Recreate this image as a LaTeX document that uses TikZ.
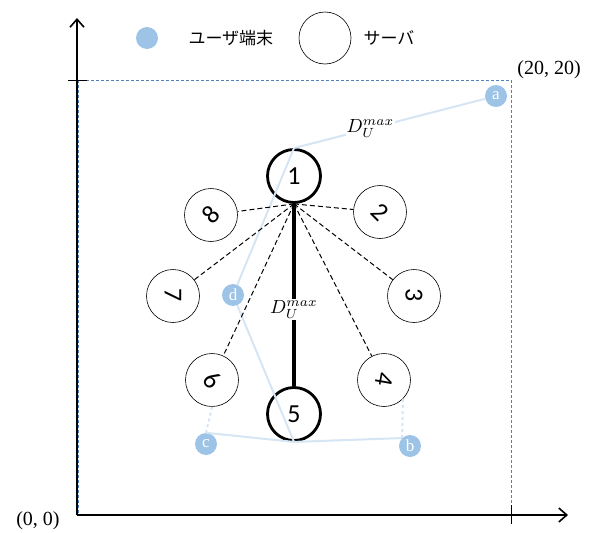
\documentclass[tikz,border=0pt]{standalone}
\usepackage{fontspec}
\setmainfont{Liberation Serif}
\newfontfamily\jpfont{Noto Sans CJK JP}
\newfontfamily\numfont{Carlito}
\usetikzlibrary{arrows.meta,positioning}
\definecolor{userblue}{HTML}{9DC3E6}
\definecolor{linkblue}{HTML}{D6E5F4}
\definecolor{areablue}{HTML}{4F81BD}
\newcommand{\Dmax}{\scalebox{1.9}{$D_U^{max}$}}
\newcommand{\turn}[2]{\rotatebox[origin=c]{#1}{#2}}

\begin{document}
\begin{tikzpicture}[
    x=1pt, y=-1pt,
    axis/.style={-{Straight Barb[length=8pt,width=14pt]}, line width=1.6pt},
    server/.style={circle, draw, line width=0.6pt, minimum size=53pt, inner sep=0pt, font=\numfont\fontsize{26}{28}\selectfont},
    hub/.style={server, line width=2.8pt},
    user/.style={circle, fill=userblue, minimum size=22pt, inner sep=0pt, text=white, font=\fontsize{17}{18}\selectfont},
    link/.style={linkblue, line width=2pt},
    cover/.style={black, dash pattern=on 5pt off 3pt, line width=1pt},
    dlabel/.style={fill=white, text=black, inner sep=1pt}
]
\useasboundingbox (0,0) rectangle (595,533);

% 凡例
\node[user] (leguser) at (147,38) {};
\node[anchor=west, font=\jpfont\fontsize{17}{19}\selectfont] (legusertxt) at (185,38) {ユーザ端末};
\node[circle, draw, line width=0.6pt, minimum size=52pt] (legsrv) at (325,38) {};
\node[anchor=west, font=\jpfont\fontsize{17}{19}\selectfont] (legsrvtxt) at (360,38) {サーバ};

% エリア
\draw[areablue, dash pattern=on 3pt off 2pt, line width=0.9pt] (78.5,80) rectangle (511,515);

% 座標軸
\coordinate (O) at (77,515);
\draw[axis] (O) -- (77,18);
\draw[axis] (O) -- (568,515);
\draw[line width=0.8pt] (68,80) -- (87,80);
\draw[line width=0.8pt] (511,505) -- (511,524);
\node[font=\fontsize{20}{22}\selectfont] (lo) at (38,521) {(0, 0)};
\node[font=\fontsize{20}{22}\selectfont] (hi) at (549,70) {(20, 20)};

% サーバ
\node[hub] (n1) at (294,176) {1};
\node[server] (n2) at (380,212) {\turn{-45}{2}};
\node[server] (n3) at (414,296) {\turn{-90}{3}};
\node[server] (n4) at (384,380) {\turn{-100}{4}};
\node[hub] (n5) at (294,414) {5};
\node[server] (n6) at (212,380) {\turn{-45}{6}};
\node[server] (n7) at (173,296) {\turn{-90}{7}};
\node[server] (n8) at (211,215) {\turn{45}{8}};

% ユーザ端末
\node[user] (a) at (496,96) {a};
\node[user] (b) at (410,446) {b};
\node[user] (c) at (206,444) {c};
\node[user] (d) at (233,295) {d};

% 端末とサーバの接続
\draw[link] (n1.north) -- (d);
\draw[link] (d) -- (n5.south);
\draw[link] (c.north) -- (n5.south) -- (b.north west);
\draw[link, dashed] (n6.south) -- (c.north);
\draw[link, dashed] (n4.-45) -- (b.north west);
\draw[link] (a) -- (n1.north) node[dlabel, pos=0.6] {\Dmax};

% サーバ間
\foreach \k in {2,3,4,6,7,8}
    \draw[cover] (n1.south) -- (n\k);
\draw[line width=3.6pt] (n1.south) -- (n5.north) node[dlabel, pos=0.58] {\Dmax};

\end{tikzpicture}
\end{document}
